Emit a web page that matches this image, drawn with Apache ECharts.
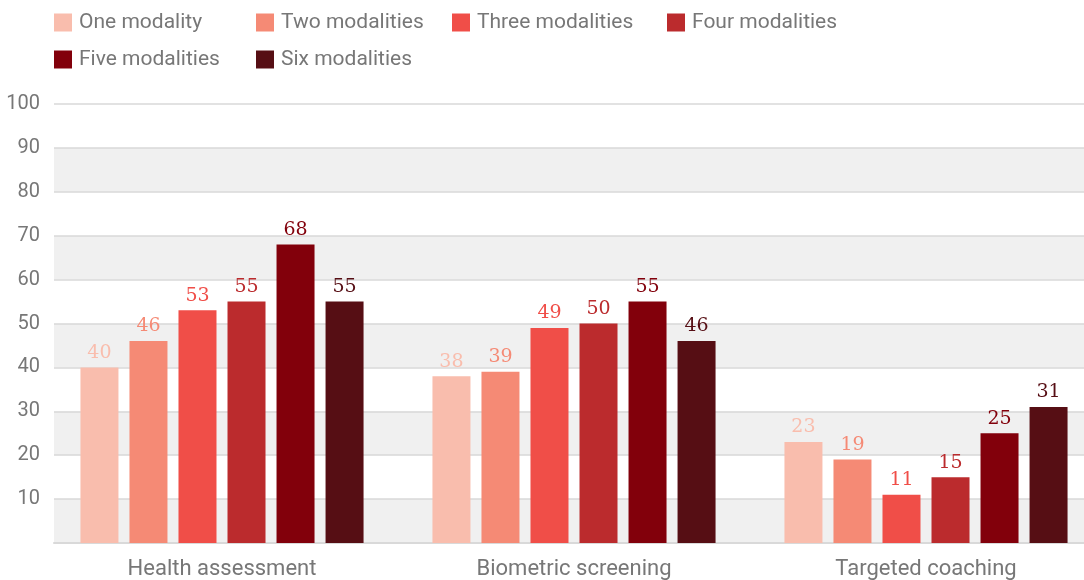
<!DOCTYPE html>
<html><head><meta charset="utf-8">
<script src="https://cdn.jsdelivr.net/npm/echarts@6/dist/echarts.min.js"></script>
<style>html,body{margin:0;padding:0;background:#fff}#c{width:1084px;height:580px}</style>
</head><body><div id="c"></div>
<script>
const categories = ['Health assessment', 'Biometric screening', 'Targeted coaching'];
const seriesNames = ['One modality', 'Two modalities', 'Three modalities', 'Four modalities', 'Five modalities', 'Six modalities'];
const oneModality = [40, 38, 23];
const twoModalities = [46, 39, 19];
const threeModalities = [53, 49, 11];
const fourModalities = [55, 50, 15];
const fiveModalities = [68, 55, 25];
const sixModalities = [55, 46, 31];
const yTicks = [10, 20, 30, 40, 50, 60, 70, 80, 90, 100];

const values = [oneModality, twoModalities, threeModalities, fourModalities, fiveModalities, sixModalities];
const colors = ['#f9bdad', '#f58a75', '#f04e48', '#bb2b2d', '#82000b', '#560e14'];
const legendPos = [[54, 12], [256, 12], [452, 12], [667, 12], [54, 49], [256, 49]];
const sans = 'Roboto, "Noto Sans", sans-serif';

const chart = echarts.init(document.getElementById('c'), null, {renderer: 'canvas'});
chart.setOption({
  animation: false,
  legend: seriesNames.map((n, i) => ({
    data: [n], left: legendPos[i][0], top: legendPos[i][1], padding: 0,
    itemWidth: 18, itemHeight: 18, itemGap: 0, icon: 'rect',
    textStyle: {color: '#777', fontSize: 21, fontFamily: sans, padding: [0, 0, 0, 2]}
  })),
  grid: [
    {left: 54, right: 0, top: 104, bottom: 37, outerBoundsMode: 'none'},
    {left: 46, width: 1056, top: 104, bottom: 37, outerBoundsMode: 'none'}
  ],
  xAxis: [
    {gridIndex: 0, type: 'category', data: categories, axisTick: {show: false}, axisLabel: {show: false},
     axisLine: {show: true, lineStyle: {color: '#d9d9d9', width: 2}}},
    {gridIndex: 1, type: 'category', data: categories, axisTick: {show: false}, axisLine: {show: false},
     axisLabel: {color: '#777', fontSize: 22, fontFamily: sans, margin: 15}}
  ],
  yAxis: [
    {gridIndex: 0, type: 'value', min: 0, max: 100, interval: 10,
     axisLine: {show: false}, axisTick: {show: false},
     axisLabel: {color: '#777', fontSize: 20, fontFamily: sans, margin: 14,
       formatter: v => yTicks.includes(v) ? String(v) : ''},
     splitLine: {show: true, lineStyle: {color: '#d9d9d9', width: 1.5}},
     splitArea: {show: true, areaStyle: {color: ['#f0f0f0', '#ffffff']}}},
    {gridIndex: 1, type: 'value', min: 0, max: 100, interval: 10, show: false, splitLine: {show: false}}
  ],
  series: seriesNames.map((n, i) => ({
    name: n, type: 'bar', xAxisIndex: 1, yAxisIndex: 1,
    data: values[i], barWidth: 38, barGap: '29%',
    itemStyle: {color: colors[i]},
    label: {show: true, position: 'top', distance: 5, color: colors[i], fontSize: 19,
      fontFamily: '"DejaVu Serif", "Liberation Serif", serif'}
  }))
});
</script></body></html>
